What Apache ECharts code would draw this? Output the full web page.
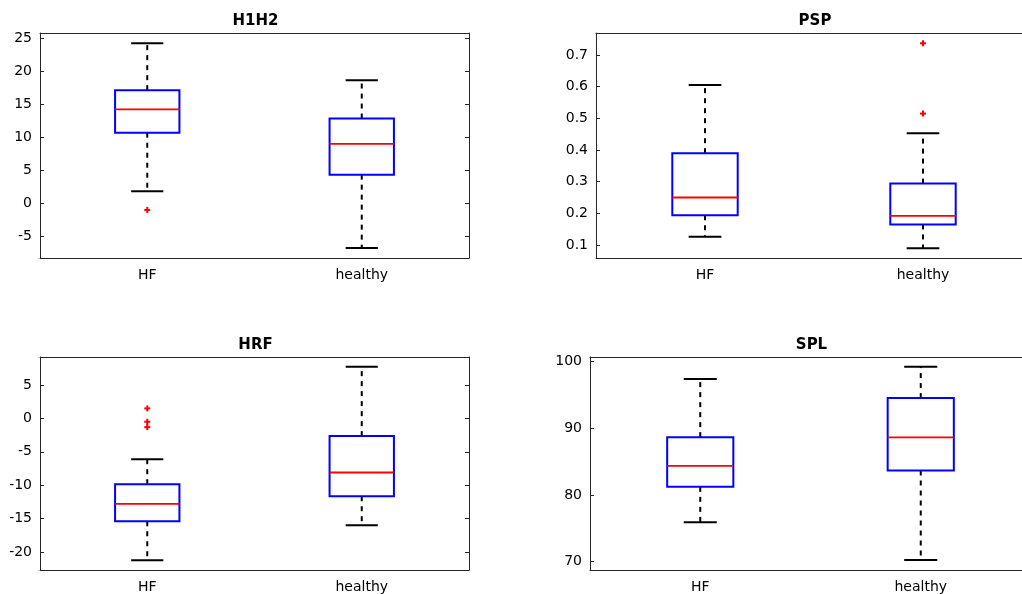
<!DOCTYPE html>
<html>
<head>
<meta charset="utf-8">
<title>boxplot</title>
<script src="https://cdn.jsdelivr.net/npm/echarts@6/dist/echarts.min.js"></script>
<style>
  html, body { margin: 0; padding: 0; background: #fff; }
  #boxEcharts { width: 1022px; height: 594px; }
</style>
</head>
<body>
<div id="boxEcharts"></div>
<script>
// 分组
var groups = ["HF", "healthy"];

// 每组统计量: [下须, 下四分位, 中位数, 上四分位, 上须]
var h1h2Stats = [[1.8, 10.65, 14.2, 17.1, 24.2], [-6.8, 4.3, 8.95, 12.8, 18.6]];
var h1h2Outliers = [[0, -1.05]];
var h1h2Ticks = [-5, 0, 5, 10, 15, 20, 25];

var pspStats = [[0.126, 0.194, 0.25, 0.39, 0.605], [0.09, 0.165, 0.192, 0.294, 0.453]];
var pspOutliers = [[1, 0.737], [1, 0.515]];
var pspTicks = [0.1, 0.2, 0.3, 0.4, 0.5, 0.6, 0.7];

var hrfStats = [[-21.25, -15.4, -12.8, -9.85, -6.1], [-16, -11.65, -8.1, -2.65, 7.75]];
var hrfOutliers = [[0, 1.5], [0, -0.5], [0, -1.3]];
var hrfTicks = [-20, -15, -10, -5, 0, 5];

var splStats = [[75.9, 81.2, 84.35, 88.65, 97.35], [70.25, 83.65, 88.6, 94.5, 99.2]];
var splOutliers = [];
var splTicks = [70, 80, 90, 100];

// 四个子图(右边两个的右框超出画布)
var panels = [
  { name: "H1H2", stats: h1h2Stats, outliers: h1h2Outliers, ticks: h1h2Ticks, min: -8.33, max: 25.76,
    grid: { left: 40, top: 33, width: 429, height: 225 } },
  { name: "PSP", stats: pspStats, outliers: pspOutliers, ticks: pspTicks, min: 0.059, max: 0.7695,
    grid: { left: 596, top: 33, width: 436, height: 225 } },
  { name: "HRF", stats: hrfStats, outliers: hrfOutliers, ticks: hrfTicks, min: -22.7, max: 9.2,
    grid: { left: 40, top: 357, width: 429, height: 213 } },
  { name: "SPL", stats: splStats, outliers: splOutliers, ticks: splTicks, min: 68.75, max: 100.65,
    grid: { left: 590, top: 357, width: 441, height: 213 } },
];

var axisColor = "#262626";
var fontName = "DejaVu Sans";

function renderBox(params, api) {
  var idx = api.value(0);
  var lo = api.coord([idx, api.value(1)]);
  var q1 = api.coord([idx, api.value(2)]);
  var med = api.coord([idx, api.value(3)]);
  var q3 = api.coord([idx, api.value(4)]);
  var hi = api.coord([idx, api.value(5)]);
  var band = api.size([1, 0])[0];
  var half = band * 0.15;
  var cap = band * 0.075;
  var x = med[0];
  var dash = { stroke: "#000", lineWidth: 2, lineDash: [5, 5] };
  var solid = { stroke: "#000", lineWidth: 2 };
  return {
    type: "group",
    children: [
      { type: "line", shape: { x1: x, y1: q3[1], x2: x, y2: hi[1] }, style: dash },
      { type: "line", shape: { x1: x, y1: q1[1], x2: x, y2: lo[1] }, style: dash },
      { type: "line", shape: { x1: x - cap, y1: hi[1], x2: x + cap, y2: hi[1] }, style: solid },
      { type: "line", shape: { x1: x - cap, y1: lo[1], x2: x + cap, y2: lo[1] }, style: solid },
      { type: "rect", shape: { x: x - half, y: q3[1], width: half * 2, height: q1[1] - q3[1] },
        style: { fill: "#fff", stroke: "#0000ff", lineWidth: 2 } },
      { type: "line", shape: { x1: x - half, y1: med[1], x2: x + half, y2: med[1] },
        style: { stroke: "#ff0000", lineWidth: 1.8 } },
    ],
  };
}

// 异常值画成红色 +
function renderPlus(params, api) {
  var p = api.coord([api.value(0), api.value(1)]);
  var s = 3;
  var st = { stroke: "#ff0000", lineWidth: 2 };
  return {
    type: "group",
    children: [
      { type: "line", shape: { x1: p[0] - s, y1: p[1], x2: p[0] + s, y2: p[1] }, style: st },
      { type: "line", shape: { x1: p[0], y1: p[1] - s, x2: p[0], y2: p[1] + s }, style: st },
    ],
  };
}

var boxChart = echarts.init(document.getElementById("boxEcharts"), null, { renderer: "canvas" });

var option = {
  animation: false,
  title: [],
  grid: [],
  xAxis: [],
  yAxis: [],
  series: [],
};

panels.forEach(function (p, i) {
  var g = p.grid;
  option.grid.push({
    left: g.left, top: g.top, width: g.width, height: g.height,
    outerBoundsMode: "none", // 不要把grid压回画布内
  });
  option.title.push({
    text: p.name,
    left: g.left + g.width / 2 - 4,
    top: g.top - 24,
    textAlign: "center",
    textStyle: { fontFamily: fontName, fontSize: 15, fontWeight: "bold", color: "#000" },
  });
  // 下方x轴 + 上方x轴(只有刻度)
  option.xAxis.push({
    type: "category", gridIndex: i, position: "bottom", data: groups,
    axisLine: { onZero: false, lineStyle: { color: axisColor } },
    axisTick: { inside: true, alignWithLabel: true, length: 4, lineStyle: { color: axisColor } },
    axisLabel: { margin: 10, fontFamily: fontName, fontSize: 14, color: "#000" },
  });
  option.xAxis.push({
    type: "category", gridIndex: i, position: "top", data: groups,
    axisLine: { onZero: false, lineStyle: { color: axisColor } },
    axisTick: { inside: true, alignWithLabel: true, length: 4, lineStyle: { color: axisColor } },
    axisLabel: { show: false },
  });
  // 左y轴 + 右y轴(只有刻度)
  option.yAxis.push({
    type: "value", gridIndex: i, position: "left", min: p.min, max: p.max,
    splitLine: { show: false },
    axisLine: { show: true, onZero: false, lineStyle: { color: axisColor } },
    axisTick: { show: true, inside: true, length: 4, customValues: p.ticks, lineStyle: { color: axisColor } },
    axisLabel: { margin: 8, customValues: p.ticks, fontFamily: fontName, fontSize: 14, color: "#000" },
  });
  option.yAxis.push({
    type: "value", gridIndex: i, position: "right", min: p.min, max: p.max,
    splitLine: { show: false },
    axisLine: { show: true, onZero: false, lineStyle: { color: axisColor } },
    axisTick: { show: true, inside: true, length: 4, customValues: p.ticks, lineStyle: { color: axisColor } },
    axisLabel: { show: false },
  });
  option.series.push({
    type: "custom",
    xAxisIndex: i * 2,
    yAxisIndex: i * 2,
    renderItem: renderBox,
    encode: { x: 0, y: [1, 2, 3, 4, 5] },
    data: p.stats.map(function (s, k) { return [k].concat(s); }),
  });
  option.series.push({
    type: "custom",
    xAxisIndex: i * 2,
    yAxisIndex: i * 2,
    renderItem: renderPlus,
    encode: { x: 0, y: 1 },
    data: p.outliers,
  });
});

boxChart.setOption(option);

// 图表自适应
window.addEventListener("resize", function () {
  boxChart.resize();
});
</script>
</body>
</html>
